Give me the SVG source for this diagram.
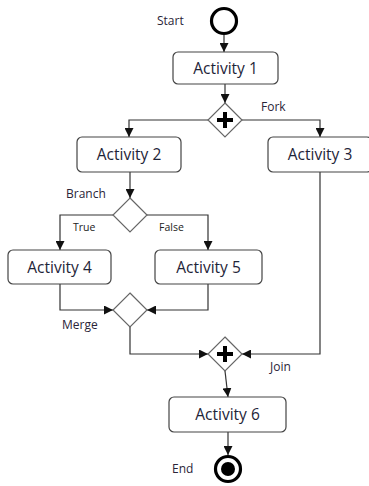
<svg xmlns="http://www.w3.org/2000/svg" width="369" height="486" viewBox="0 0 369 486">
<defs>
<marker id="arr" viewBox="0 0 10 10" refX="10" refY="5" markerWidth="9" markerHeight="9" markerUnits="userSpaceOnUse" orient="auto">
<path d="M0,0 L10,5 L0,10 z" fill="#111"/>
</marker>
<style>
.box{fill:#fff;stroke:#444;stroke-width:1.2}
.act{font-family:"Open Sans","Noto Sans",sans-serif;font-size:15.5px;fill:#1e2438;text-anchor:middle}
.lbl{font-family:"Open Sans","Noto Sans",sans-serif;font-size:12px;fill:#2a2438}
.sm{font-family:"Open Sans","Noto Sans",sans-serif;font-size:10.5px;fill:#222}
.dia{fill:#fff;stroke:#666;stroke-width:1.2}
.con{fill:none;stroke:#333;stroke-width:1.2;marker-end:url(#arr)}
</style>
</defs>
<rect width="369" height="486" fill="#fff"/>
<g id="connectors">
<line class="con" x1="224" y1="35" x2="224" y2="52"/>
<line class="con" x1="225" y1="84" x2="225" y2="103"/>
<polyline class="con" points="208,120 129,120 129,137"/>
<polyline class="con" points="242,120 320,120 320,137"/>
<line class="con" x1="130" y1="172" x2="130" y2="198"/>
<polyline class="con" points="113,215 60,215 60,250"/>
<polyline class="con" points="147,215 208,215 208,250"/>
<polyline class="con" points="60,284 60,310 113,310"/>
<polyline class="con" points="208,284 208,310 147,310"/>
<polyline class="con" points="130,327 130,354 208,354"/>
<polyline class="con" points="320,172 320,354 242,354"/>
<line class="con" x1="225" y1="371" x2="228" y2="397"/>
<line class="con" x1="228" y1="432" x2="228" y2="455"/>
</g>
<g id="start">
<circle cx="224" cy="21" r="12.5" fill="#fff" stroke="#000" stroke-width="3.2"/>
<text class="lbl" x="157" y="25">Start</text>
</g>
<g id="activity1">
<rect class="box" x="173" y="52" width="105" height="32" rx="5"/>
<text class="act" x="225.5" y="73.5">Activity 1</text>
</g>
<g id="fork">
<polygon class="dia" points="225,103 242,120 225,137 208,120"/>
<path d="M225,112 V128 M217,120 H233" stroke="#000" stroke-width="4"/>
<text class="lbl" x="261" y="111">Fork</text>
</g>
<g id="activity2">
<rect class="box" x="77" y="137" width="104" height="35" rx="5"/>
<text class="act" x="129" y="160">Activity 2</text>
</g>
<g id="activity3">
<rect class="box" x="268" y="137" width="104" height="35" rx="5"/>
<text class="act" x="320" y="160">Activity 3</text>
</g>
<g id="branch">
<polygon class="dia" points="130,198 147,215 130,232 113,215"/>
<text class="lbl" x="66" y="198">Branch</text>
<text class="sm" x="73" y="231">True</text>
<text class="sm" x="159" y="231">False</text>
</g>
<g id="activity4">
<rect class="box" x="8" y="250" width="103" height="34" rx="5"/>
<text class="act" x="59.5" y="272.5">Activity 4</text>
</g>
<g id="activity5">
<rect class="box" x="155" y="250" width="107" height="34" rx="5"/>
<text class="act" x="208.5" y="272.5">Activity 5</text>
</g>
<g id="merge">
<polygon class="dia" points="130,293 147,310 130,327 113,310"/>
<text class="lbl" x="62" y="329">Merge</text>
</g>
<g id="join">
<polygon class="dia" points="225,337 242,354 225,371 208,354"/>
<path d="M225,346 V362 M217,354 H233" stroke="#000" stroke-width="4"/>
<text class="lbl" x="270" y="371">Join</text>
</g>
<g id="activity6">
<rect class="box" x="169" y="397" width="117" height="35" rx="5"/>
<text class="act" x="227.5" y="420">Activity 6</text>
</g>
<g id="end">
<circle cx="228" cy="469" r="12.5" fill="#fff" stroke="#000" stroke-width="3.2"/>
<circle cx="228" cy="469" r="7" fill="#000"/>
<text class="lbl" x="172" y="473">End</text>
</g>
</svg>
